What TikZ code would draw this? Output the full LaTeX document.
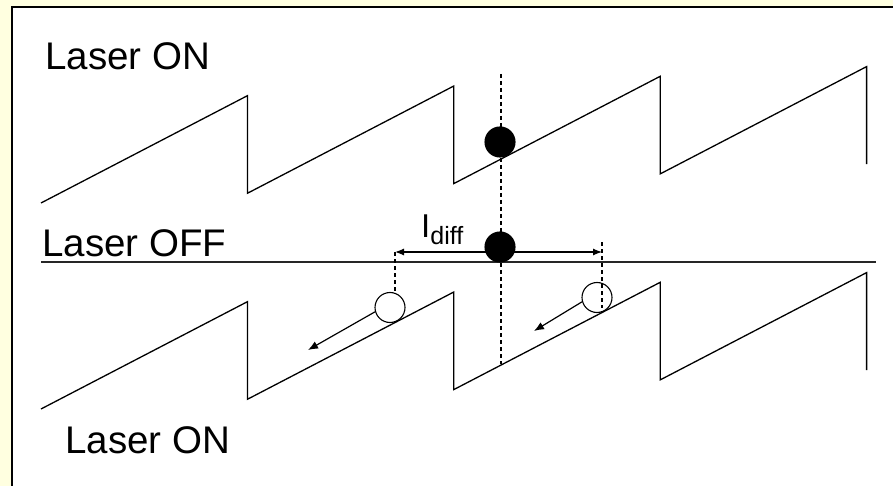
\documentclass[tikz,border=0pt]{standalone}
\usepackage{fontspec}
\setmainfont{Liberation Sans}
\usetikzlibrary{arrows.meta}
\definecolor{paleyellow}{HTML}{FFFFE0}

\begin{document}
\begin{tikzpicture}[
    x=1pt, y=-1pt,
    wave/.style={line width=1.3pt, line join=miter},
    guide/.style={dash pattern=on 4pt off 3pt, line width=1.1pt},
    lbl/.style={font=\fontsize{38.5}{44}\selectfont, anchor=base west, inner sep=0pt},
    ball/.style={circle, draw, line width=1.1pt, minimum size=30pt, inner sep=0pt},
    arr/.style={-{Latex[length=10pt, width=8pt]}, line width=1.2pt},
    dim/.style={{Latex[length=9pt, width=7pt]}-{Latex[length=9pt, width=7pt]}, line width=1.2pt}
  ]
    \useasboundingbox (0,0) rectangle (893,486);
    \fill[paleyellow] (0,0) rectangle (893,486);
    \draw[line width=2pt, fill=white] (12,7) rectangle (900,495);

    % sawtooth potentials, upper and lower
    \foreach \yo in {203, 409} {
      \draw[wave] (41,\yo) \foreach \k in {0,...,3} {
        -- ({41+(\k+1)*206.4}, {\yo-\k*9.7-107.3})
        -- ({41+(\k+1)*206.4}, {\yo-(\k+1)*9.7}) };
    }
    \coordinate (offL) at (41,262);
    \coordinate (offR) at (876,262);
    \draw[line width=2pt, black!85] (offL) -- (offR);

    \node[lbl] (onTop) at (45,70) {Laser ON};
    \node[lbl] (off) at (42,256.5) {Laser OFF};
    \node[lbl] (onBot) at (65,453) {Laser ON};

    % guides
    \coordinate (vtop) at (501,74);
    \coordinate (vbot) at (501,364);
    \coordinate (ldL) at (395,252);
    \coordinate (ldR) at (602,252);
    \coordinate (rtop) at (602,242);
    \coordinate (rbot) at (602,308);

    \node[ball] (holeL) at (390,307.5) {};
    \node[ball] (holeR) at (597,297.5) {};

    \draw[guide] (vtop) -- (vbot);
    \draw[guide] (ldL) -- (ldL |- holeL.north);
    \draw[guide] (rtop) -- (rbot);
    \draw[dim] (ldL) -- (ldR);

    \node[ball, fill=black] (dotOn) at (500,142) {};
    \node[ball, fill=black] (dotOff) at (500,247) {};

    \node[inner sep=0pt, anchor=base west, font=\fontsize{33}{38}\selectfont]
      (ldiff) at (421,237) {I\raisebox{-7pt}{\fontsize{25}{28}\selectfont diff}};

    % drift of the holes
    \coordinate (tipL) at (308,350);
    \coordinate (tipR) at (534,331);
    \draw[arr] (holeL.196) -- (tipL);
    \draw[arr] (holeR.196) -- (tipR);
  \end{tikzpicture}
\end{document}
